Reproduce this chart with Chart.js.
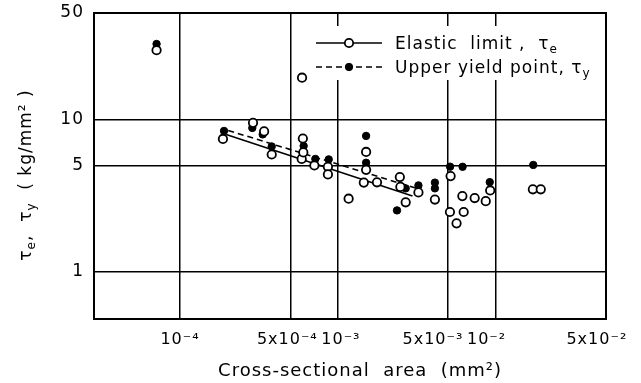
<!DOCTYPE html>
<html>
<head>
<meta charset="utf-8">
<title>Elastic limit and upper yield point vs cross-sectional area</title>
<script src="https://cdn.jsdelivr.net/npm/chart.js@4.4.1/dist/chart.umd.min.js"></script>
<style>
    html, body { margin: 0; padding: 0; background: #fff; }
    #wrap { width: 641px; height: 383px; }
</style>
</head>
<body>
<div id="wrap"><canvas id="chart" width="641" height="383"></canvas></div>
<script>
// Values: x = cross-sectional area (mm²), y = stress (kg/mm²)

// Elastic limit (open circles)
const elasticX = [7.1e-5, 1.87e-4, 2.90e-4, 3.41e-4, 3.81e-4, 5.9e-4, 5.93e-4, 6.0e-4, 6.04e-4, 7.1e-4,
                  8.65e-4, 8.65e-4, 1.17e-3, 1.46e-3, 1.51e-3, 1.51e-3, 1.77e-3, 2.47e-3, 2.49e-3, 2.69e-3,
                  3.24e-3, 4.12e-3, 5.13e-3, 5.18e-3, 5.65e-3, 6.15e-3, 6.27e-3, 7.36e-3, 8.65e-3, 9.23e-3,
                  1.72e-2, 1.93e-2];
const elasticY = [28.5, 7.45, 9.5, 8.35, 5.89, 5.51, 18.8, 7.5, 6.08, 4.99,
                  4.89, 4.36, 3.02, 3.85, 6.12, 4.67, 3.87, 4.19, 3.61, 2.86,
                  3.32, 2.98, 2.47, 4.25, 2.08, 3.14, 2.47, 3.05, 2.91, 3.42,
                  3.48, 3.48];

// Upper yield point (filled circles)
const yieldX = [7.1e-5, 1.90e-4, 2.87e-4, 3.34e-4, 3.81e-4, 6.07e-4, 7.2e-4, 8.75e-4, 1.51e-3, 1.51e-3,
                2.37e-3, 2.69e-3, 3.24e-3, 4.12e-3, 4.12e-3, 5.14e-3, 6.17e-3, 9.17e-3, 1.73e-2];
const yieldY = [31.3, 8.41, 8.8, 7.98, 6.65, 6.70, 5.51, 5.47, 7.80, 5.20,
                2.53, 3.53, 3.69, 3.85, 3.53, 4.90, 4.89, 3.88, 5.03];

// Fitted lines (end points)
const elasticFitX = [1.96e-4, 2.97e-3];
const elasticFitY = [7.98, 3.15];
const yieldFitX = [2.02e-4, 3.15e-3];
const yieldFitY = [8.47, 3.53];

// Axes (spaces nudge the crowded labels the way the original sets them)
const xTickValues = [1e-4, 5e-4, 1e-3, 5e-3, 1e-2, 5e-2];
const xTickLabels = ['10⁻⁴', '5x10⁻⁴ ', ' 10⁻³', '5x10⁻³     ', '10⁻²   ', '5x10⁻²   '];
const yTickValues = [1, 5, 10, 50];
const yTickLabels = ['1', '5', '10', '50'];

const FONT = '"DejaVu Sans", sans-serif';
const toPoints = (xs, ys) => xs.map((x, i) => ({ x, y: ys[i] }));

// the original lettering is widely spaced
const spacingPlugin = {
    id: 'spacing',
    beforeUpdate(chart) { chart.ctx.letterSpacing = '1px'; },
    beforeDraw(chart) { chart.ctx.letterSpacing = '1px'; },
};

// full box round the plot
const framePlugin = {
    id: 'frame',
    beforeDatasetsDraw(chart) {
        const { ctx, chartArea: a } = chart;
        ctx.save();
        ctx.strokeStyle = '#000';
        ctx.lineWidth = 2;
        ctx.strokeRect(a.left, a.top, a.right - a.left, a.bottom - a.top);
        ctx.restore();
    },
};

// draws text pieces, some as subscripts; returns the width
function drawParts(ctx, x, y, parts, draw) {
    let w = 0;
    parts.forEach(([txt, sub]) => {
        ctx.font = (sub ? '12px ' : '17px ') + FONT;
        if (draw) ctx.fillText(txt, x + w, y + (sub ? 4 : 0));
        w += ctx.measureText(txt).width;
    });
    return w;
}

const yTitleParts = [['τ'], ['e', true], [',  τ'], ['y', true], ['  ( kg/mm² )']];

const yTitlePlugin = {
    id: 'yTitle',
    afterDraw(chart) {
        const { ctx, chartArea: a } = chart;
        ctx.save();
        ctx.fillStyle = '#000';
        ctx.textBaseline = 'alphabetic';
        ctx.translate(25, (a.top + a.bottom) / 2 + 9);
        ctx.rotate(-Math.PI / 2);
        const w = drawParts(ctx, 0, 0, yTitleParts, false);
        drawParts(ctx, -w / 2, 6, yTitleParts, true);
        ctx.restore();
    },
};

const legendRows = [
    { dataset: 0, line: 2, parts: [['Elastic  limit ,  τ'], ['e', true]] },
    { dataset: 1, line: 3, parts: [['Upper yield point, τ'], ['y', true]] },
];

const legendPlugin = {
    id: 'paperLegend',
    afterDraw(chart) {
        const { ctx, chartArea: a } = chart;
        const left = a.right - 298, top = a.top + 13;
        ctx.save();
        ctx.fillStyle = '#fff';
        ctx.fillRect(left, top, 292, 54);
        legendRows.forEach((row, i) => {
            const pts = chart.data.datasets[row.dataset];
            const ln = chart.data.datasets[row.line];
            const cy = top + 17 + i * 24;
            ctx.strokeStyle = '#000';
            ctx.lineWidth = ln.borderWidth;
            ctx.setLineDash(ln.borderDash || []);
            ctx.beginPath();
            ctx.moveTo(left + 8, cy);
            ctx.lineTo(left + 74, cy);
            ctx.stroke();
            ctx.setLineDash([]);
            ctx.beginPath();
            ctx.arc(left + 41, cy, pts.pointRadius, 0, Math.PI * 2);
            ctx.fillStyle = pts.pointBackgroundColor;
            ctx.fill();
            ctx.lineWidth = pts.pointBorderWidth;
            ctx.stroke();
            ctx.fillStyle = '#000';
            ctx.textBaseline = 'alphabetic';
            drawParts(ctx, left + 87, cy + 6, row.parts, true);
        });
        ctx.restore();
    },
};

Chart.defaults.font.family = FONT;
Chart.defaults.color = '#000';

new Chart(document.getElementById('chart'), {
    type: 'scatter',
    data: {
        datasets: [
            {
                label: 'Elastic limit',
                data: toPoints(elasticX, elasticY),
                pointRadius: 4.2,
                pointBorderWidth: 1.8,
                pointBackgroundColor: '#fff',
                pointBorderColor: '#000',
                order: 0,
            },
            {
                label: 'Upper yield point',
                data: toPoints(yieldX, yieldY),
                pointRadius: 3.7,
                pointBorderWidth: 1,
                pointBackgroundColor: '#000',
                pointBorderColor: '#000',
                order: 1,
            },
            {
                label: 'Elastic limit fit',
                data: toPoints(elasticFitX, elasticFitY),
                showLine: true,
                pointRadius: 0,
                borderColor: '#000',
                borderWidth: 1.6,
                order: 2,
            },
            {
                label: 'Upper yield point fit',
                data: toPoints(yieldFitX, yieldFitY),
                showLine: true,
                pointRadius: 0,
                borderColor: '#000',
                borderWidth: 1.6,
                borderDash: [6, 4],
                order: 3,
            },
        ],
    },
    options: {
        responsive: false,
        animation: false,
        events: [],
        layout: { padding: { left: 0, right: 35, top: 13, bottom: 0 } },
        plugins: {
            legend: { display: false },
            tooltip: { enabled: false },
        },
        scales: {
            x: {
                type: 'logarithmic',
                position: 'bottom',
                min: 2.85e-5,
                max: 5e-2,
                afterBuildTicks: scale => { scale.ticks = xTickValues.map(v => ({ value: v })); },
                afterFit: scale => { scale.height = 64; scale.paddingLeft = 0; scale.paddingRight = 0; },
                grid: { color: '#000', lineWidth: 1.5, drawTicks: false },
                border: { display: true, color: '#000', width: 2 },
                ticks: {
                    autoSkip: false,
                    maxRotation: 0,
                    minRotation: 0,
                    padding: 11,
                    font: { size: 16 },
                    callback: (v, i) => xTickLabels[i],
                },
                title: {
                    display: true,
                    text: '   Cross-sectional  area  (mm²)',
                    font: { size: 18 },
                    padding: { top: 0, bottom: 1 },
                },
            },
            y: {
                type: 'logarithmic',
                min: 0.49,
                max: 50,
                afterBuildTicks: scale => { scale.ticks = yTickValues.map(v => ({ value: v })); },
                afterFit: scale => { scale.width = 94; scale.paddingTop = 0; scale.paddingBottom = 0; },
                grid: { color: '#000', lineWidth: 1.5, drawTicks: false },
                border: { display: true, color: '#000', width: 2 },
                ticks: {
                    padding: 10,
                    font: { size: 17 },
                    callback: (v, i) => yTickLabels[i],
                },
            },
        },
    },
    plugins: [spacingPlugin, framePlugin, yTitlePlugin, legendPlugin],
});
</script>
</body>
</html>
